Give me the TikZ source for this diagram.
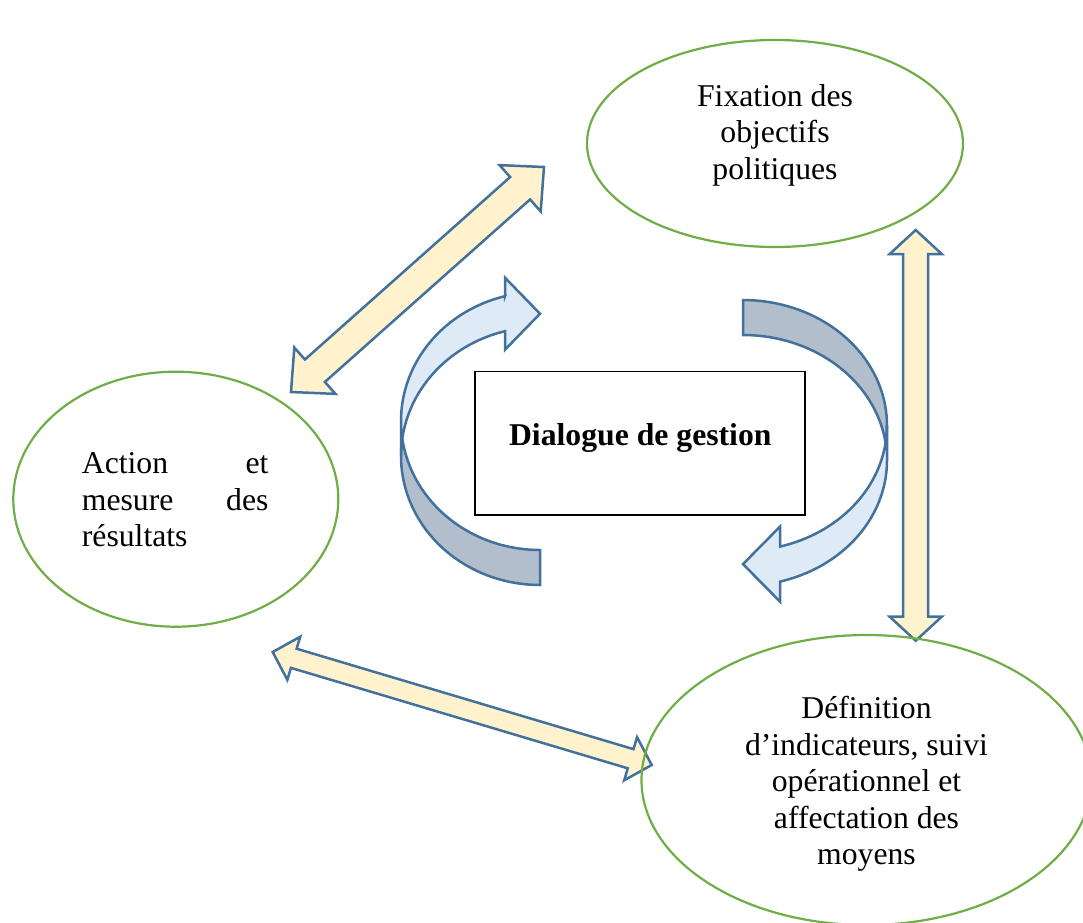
\documentclass[tikz,border=0pt]{standalone}
\usepackage{fontspec}
\setmainfont{Liberation Serif}
\usetikzlibrary{shapes.geometric,calc}
\definecolor{ellgreen}{HTML}{70AD47}
\definecolor{arrblue}{HTML}{41719C}
\definecolor{arryellow}{HTML}{FFF2CC}
\definecolor{lightblue}{HTML}{DEEBF7}
\definecolor{backgray}{HTML}{B2BECB}
\tikzset{
  ell/.style={draw=ellgreen, line width=2.2pt, ellipse, inner sep=0pt},
  lbl/.style={font=\fontsize{31.7pt}{36.5pt}\selectfont, inner sep=0pt, align=center, anchor=north},
  dbl/.style={draw=arrblue, fill=arryellow, line width=2.5pt},
  front/.style={draw=arrblue, fill=lightblue, line width=2.5pt},
  back/.style={draw=arrblue, fill=backgray, line width=2.5pt},
  boxst/.style={draw=black, line width=1.3pt, minimum width=330pt, minimum height=143.3pt, inner sep=0pt},
}
% #1 end A, #2 end B, #3 shaft half width, #4 head half width, #5 head length
\newcommand\blkarrow[5]{%
  \draw[dbl] (#1)
   -- ($(#1)!#5!(#2)!#4!90:(#2)$)
   -- ($(#1)!#5!(#2)!#3!90:(#2)$)
   -- ($(#2)!#5!(#1)!#3!-90:(#1)$)
   -- ($(#2)!#5!(#1)!#4!-90:(#1)$)
   -- (#2)
   -- ($(#2)!#5!(#1)!#4!90:(#1)$)
   -- ($(#2)!#5!(#1)!#3!90:(#1)$)
   -- ($(#1)!#5!(#2)!#3!-90:(#2)$)
   -- ($(#1)!#5!(#2)!#4!-90:(#2)$)
   -- cycle;}
\begin{document}
\begin{tikzpicture}[x=1pt,y=-1pt]
\useasboundingbox (0,0) rectangle (1083,922);

% end points of the block arrows
\coordinate (a1) at (291,392);
\coordinate (b1) at (544,167);
\coordinate (a2) at (915.7,230);
\coordinate (b2) at (915.7,640.7);
\coordinate (a3) at (272.7,652);
\coordinate (b3) at (651.7,765);

\blkarrow{a1}{b1}{15pt}{31pt}{32pt}
\blkarrow{a2}{b2}{12.5pt}{26pt}{24pt}
\blkarrow{a3}{b3}{10pt}{22.5pt}{22pt}

% left curved arrow
\draw[back] (540,585)
  -- plot[domain=90:187.8,samples=40] ({540+139*cos(\x)},{456+129*sin(\x)})
  -- plot[domain=172.2:90,samples=40] ({540+139*cos(\x)},{421+129*sin(\x)})
  -- cycle;
\draw[front] (401,456)
  -- plot[domain=180:255.42,samples=40] ({540+139*cos(\x)},{456+129*sin(\x)})
  -- (505,349.7) -- (540,313.7) -- (505,277.7) -- (505,296.2)
  -- plot[domain=255.42:180,samples=40] ({540+139*cos(\x)},{421+129*sin(\x)})
  -- cycle;

% right curved arrow
\draw[back] (743,300)
  -- plot[domain=-90:8.02,samples=40] ({743+144*cos(\x)},{425.4+125.4*sin(\x)})
  -- plot[domain=-8.02:-90,samples=40] ({743+144*cos(\x)},{460.4+125.4*sin(\x)})
  -- cycle;
\draw[front] (887,425.4)
  -- plot[domain=0:75.11,samples=40] ({743+144*cos(\x)},{425.4+125.4*sin(\x)})
  -- (780,526.6) -- (743,564.1) -- (780,601.6) -- (780,581.6)
  -- plot[domain=75.11:0,samples=40] ({743+144*cos(\x)},{460.4+125.4*sin(\x)})
  -- cycle;

% ellipses
\node[ell, minimum width=376pt, minimum height=207pt] (F) at (775,143.5) {};
\node[ell, minimum width=325pt, minimum height=255pt] (A) at (175.8,499.2) {};
\node[ell, minimum width=450pt, minimum height=290pt] (D) at (866.5,780) {};

\node[lbl] (Ft) at (775,76) {\rule{0pt}{30pt}Fixation des\\objectifs\\politiques};
\node[lbl, anchor=north west, text width=186.6pt, align=left] (At) at (81.7,443.3)
  {\rule{0pt}{30pt}Action\hfill et\\mesure\hfill des\\résultats};
\node[lbl] (Dt) at (866.5,688.3)
  {\rule{0pt}{30pt}Définition\\d’indicateurs, suivi\\opérationnel et\\affectation des\\moyens};

% central box
\node[boxst] (G) at (640,443.3) {};
\node[font=\fontsize{31.7pt}{36.5pt}\selectfont\bfseries, inner sep=0pt, anchor=base] (Gt) at (640.3,445) {Dialogue de gestion};
\end{tikzpicture}
\end{document}
